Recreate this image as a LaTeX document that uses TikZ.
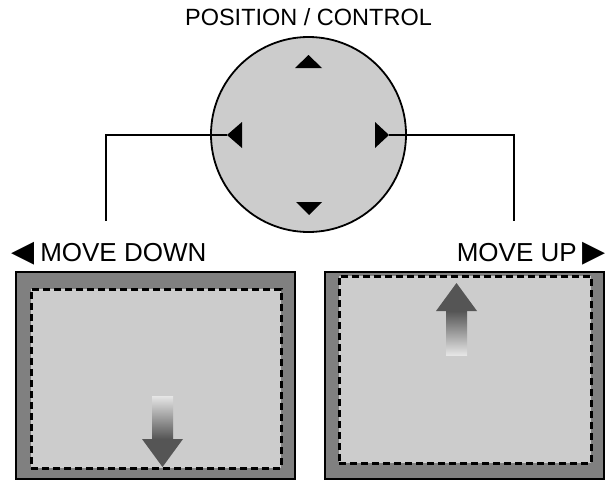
\documentclass[tikz,border=0pt]{standalone}
\usepackage{fontspec}
\setmainfont{Liberation Sans}
\newfontfamily\symfont{DejaVu Sans}
\definecolor{panelgray}{HTML}{CCCCCC}
\definecolor{bordergray}{HTML}{808080}
\definecolor{arrowdark}{HTML}{555555}
\begin{document}
\begin{tikzpicture}[x=1pt,y=-1pt,
  line/.style={line width=1.6pt, black},
  outerframe/.style={draw=black, line width=2pt, fill=bordergray},
  innerframe/.style={draw=black, line width=2.6pt, dash pattern=on 7pt off 4pt, fill=panelgray},
  tri/.style={fill=black},
  label/.style={inner sep=0pt, font=\fontsize{26}{30}\selectfont},
  title/.style={inner sep=0pt, font=\fontsize{23.5}{26}\selectfont},
]
\useasboundingbox (0,0) rectangle (610,479);
\fill[white] (0,0) rectangle (610,479);

% title
\node[title, anchor=base] (title) at (308.5,25) {POSITION / CONTROL};

% control disc
\node[circle, draw=black, line width=1.8pt, fill=panelgray, minimum size=195pt, inner sep=0pt] (ctrl) at (308.5,134.5) {};

% direction triangles
\fill[tri] (295,68) -- (308.5,55) -- (322,68) -- cycle;
\fill[tri] (296,202) -- (309,215) -- (322,202) -- cycle;
\fill[tri] (242,122) -- (227,135) -- (242,148) -- cycle;
\fill[tri] (375,122) -- (389,135) -- (375,148) -- cycle;
\coordinate (tipL) at (227,135);
\coordinate (tipR) at (389,135);
\coordinate (bendL) at (106,135);
\coordinate (endL) at (106,221);
\coordinate (bendR) at (514,135);
\coordinate (endR) at (514,221);
\draw[line] (tipL) -- (bendL) -- (endL);
\draw[line] (tipR) -- (bendR) -- (endR);

% labels
\node[label, anchor=base west] (down) at (11,261) {{\symfont\fontsize{30}{30}\selectfont ◀}\hspace{6pt}MOVE DOWN};
\node[label, anchor=base east] (up) at (606,261) {MOVE UP\hspace{6pt}{\symfont\fontsize{30}{30}\selectfont ▶}};

% left screen
\node[outerframe, anchor=north west, minimum width=279pt, minimum height=207pt, inner sep=0pt] (scrL) at (15,271) {};
\node[innerframe, anchor=north west, minimum width=250pt, minimum height=179pt, inner sep=0pt] (viewL) at (30,288) {};
\shade[top color=white!90!black, bottom color=arrowdark] (152,396) rectangle (173,439);
\fill[arrowdark] (142,439) -- (183,439) -- (162.5,467) -- cycle;

% right screen
\node[outerframe, anchor=north west, minimum width=279pt, minimum height=207pt, inner sep=0pt] (scrR) at (324,271) {};
\node[innerframe, anchor=north west, minimum width=252pt, minimum height=187pt, inner sep=0pt] (viewR) at (338,275) {};
\shade[top color=arrowdark, bottom color=white!90!black] (446,311) rectangle (467,355);
\fill[arrowdark] (436,311) -- (477,311) -- (456.5,283) -- cycle;
\end{tikzpicture}
\end{document}
